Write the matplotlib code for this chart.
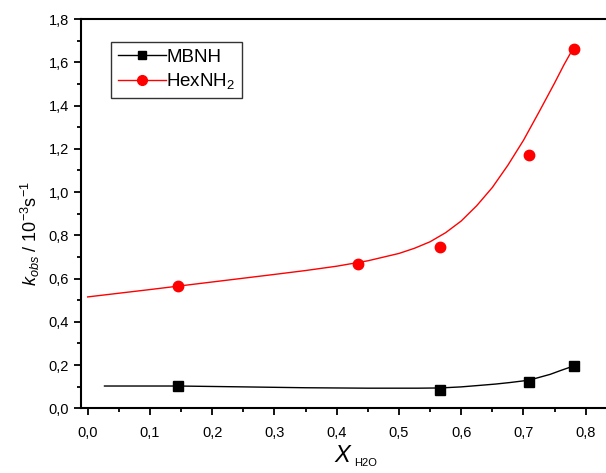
import numpy as np
import matplotlib
matplotlib.use("Agg")
import matplotlib.pyplot as plt
from matplotlib.lines import Line2D
from matplotlib.ticker import MultipleLocator, FuncFormatter

plt.rcParams["font.family"] = ["Liberation Sans", "DejaVu Sans"]
plt.rcParams["mathtext.fontset"] = "custom"
plt.rcParams["mathtext.rm"] = "Liberation Sans"
plt.rcParams["mathtext.it"] = "Liberation Sans:italic"

# measured points
x_mbnh = [0.145, 0.566, 0.709, 0.781]
k_mbnh = [0.102, 0.085, 0.123, 0.195]
x_hex = [0.145, 0.435, 0.566, 0.709, 0.781]
k_hex = [0.565, 0.669, 0.745, 1.171, 1.661]

# fitted curves
fit_x_mbnh = [0.027, 0.145, 0.25, 0.35, 0.45, 0.53, 0.566, 0.6, 0.63, 0.655, 0.678,
              0.709, 0.743, 0.76, 0.781]
fit_k_mbnh = [0.103, 0.103, 0.099, 0.095, 0.093, 0.093, 0.094, 0.099, 0.106, 0.112, 0.119,
              0.130, 0.157, 0.175, 0.196]
fit_x_hex = [0.0, 0.1, 0.2, 0.3, 0.35, 0.4, 0.45, 0.5, 0.525, 0.55, 0.575, 0.6, 0.625,
             0.65, 0.675, 0.7, 0.725, 0.75, 0.765, 0.78]
fit_k_hex = [0.515, 0.549, 0.584, 0.619, 0.637, 0.657, 0.682, 0.716, 0.740, 0.770, 0.812,
             0.866, 0.937, 1.021, 1.124, 1.239, 1.370, 1.504, 1.588, 1.665]

fig = plt.figure(figsize=(6.06, 4.73), dpi=100)
ax = fig.add_axes([0.1337, 0.1368, 0.8663, 0.823])

ax.plot(fit_x_mbnh, fit_k_mbnh, color="black", lw=1.0)
ax.plot(fit_x_hex, fit_k_hex, color="red", lw=1.0)
ax.plot(x_mbnh, k_mbnh, "s", color="black", ms=6.5, ls="none")
ax.plot(x_hex, k_hex, "o", color="red", ms=7.5, ls="none")

ax.set_xlim(-0.0107, 0.8326)
ax.set_ylim(0, 1.8)
ax.xaxis.set_major_locator(MultipleLocator(0.1))
ax.xaxis.set_minor_locator(MultipleLocator(0.05))
ax.yaxis.set_major_locator(MultipleLocator(0.2))
ax.yaxis.set_minor_locator(MultipleLocator(0.1))
comma = FuncFormatter(lambda v, p: f"{v:.1f}".replace(".", ","))
ax.xaxis.set_major_formatter(comma)
ax.yaxis.set_major_formatter(comma)
ax.tick_params(which="major", direction="out", length=5, width=1.3, labelsize=10.5)
ax.tick_params(which="minor", direction="out", length=3, width=1.3)
ax.tick_params(axis="x", pad=8)

ax.spines["right"].set_visible(False)
for s in ["left", "bottom", "top"]:
    ax.spines[s].set_linewidth(1.5)

# X with a small, lowered H2O subscript
ax.set_xlabel(r"$X$", fontsize=17, labelpad=3)
ax.annotate("H2O", xy=(1, 0), xycoords=ax.xaxis.label, xytext=(0.5, -1),
            textcoords="offset points", fontsize=8, ha="left", va="bottom")
ax.set_ylabel(r"$k_{obs}$ / 10$^{-3}$s$^{-1}$", fontsize=13)
ax.yaxis.set_label_coords(-0.075, 0.45)

handles = [
    Line2D([], [], color="black", lw=1.0, marker="s", ms=6, label="MBNH"),
    Line2D([], [], color="red", lw=1.0, marker="o", ms=7, label=r"HexNH$_2$"),
]
leg = ax.legend(handles=handles, loc="upper left", bbox_to_anchor=(0.057, 0.941),
                fontsize=13.5, frameon=True, fancybox=False, handlelength=2.6,
                handletextpad=0.0, borderpad=0.35, labelspacing=0.3,
                borderaxespad=0)
leg.get_frame().set_edgecolor("black")
leg.get_frame().set_linewidth(1.0)

fig.savefig("out.png", dpi=100)
